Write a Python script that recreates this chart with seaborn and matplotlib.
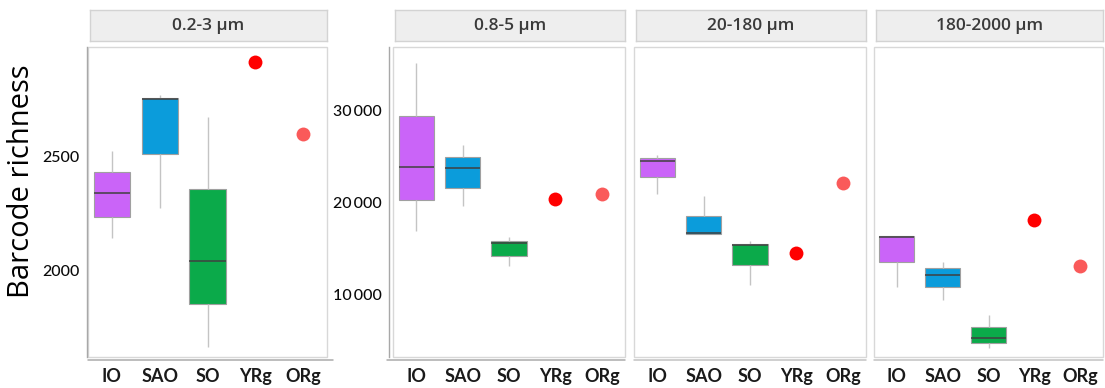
import matplotlib
matplotlib.use("Agg")
import matplotlib.pyplot as plt
import matplotlib.transforms as mtransforms
from matplotlib.patches import Rectangle
from matplotlib.lines import Line2D
import seaborn as sns
import pandas as pd

# ---------------- data ----------------
regions = ["IO", "SAO", "SO", "YRg", "ORg"]
box_regions = ["IO", "SAO", "SO"]
point_regions = ["YRg", "ORg"]
fractions = ["0.2-3 µm", "0.8-5 µm", "20-180 µm", "180-2000 µm"]

# per-fraction samples (min, q1, median, q3, max)
io_values = [[2141, 2236, 2340, 2435, 2528],
             [16917, 20250, 23802, 29348, 35076],
             [20900, 22700, 24492, 24750, 25109],
             [10830, 13550, 16250, 16300, 16300]]
sao_values = [[2276, 2513, 2755, 2762, 2774],
              [19600, 21590, 23730, 24924, 26196],
              [16520, 16520, 16600, 18550, 20616],
              [9380, 10830, 12100, 12830, 13480]]
so_values = [[1662, 1850, 2040, 2357, 2675],
             [13109, 14196, 15540, 15830, 16196],
             [11010, 13180, 15330, 15510, 15760],
             [4200, 4740, 5280, 6480, 7750]]
yrg_values = [2918, 20326, 14520, 18040]
org_values = [2600, 20870, 22040, 13110]

palette = {"IO": "#CA64F8", "SAO": "#0B9CDB", "SO": "#0BAA4A",
           "YRg": "#FF0000", "ORg": "#FA5A5A"}

rows = []
for i, f in enumerate(fractions):
    for reg, vals in (("IO", io_values), ("SAO", sao_values), ("SO", so_values)):
        for v in vals[i]:
            rows.append((f, reg, v))
    rows.append((f, "YRg", yrg_values[i]))
    rows.append((f, "ORg", org_values[i]))
df = pd.DataFrame(rows, columns=["fraction", "region", "value"])

# ---------------- style ----------------
sns.set_theme(style="white")
plt.rcParams["font.family"] = ["Lato", "DejaVu Sans"]

W, H = 1105, 388
fig = plt.figure(figsize=(W / 100, H / 100), dpi=100)


def px_axes(l, t, r, b):
    return fig.add_axes([l / W, 1 - b / H, (r - l) / W, (b - t) / H])


panel_x = [(88, 327), (393, 625), (634, 866), (874, 1103)]
TOP, BOT = 47, 357
ylims = [(1616, 2986), (3185, 36848), (3185, 36848), (3185, 36848)]

for i, f in enumerate(fractions):
    l, r = panel_x[i]
    ax = px_axes(l, TOP, r, BOT)
    sub = df[df["fraction"] == f]
    sns.boxplot(data=sub[sub["region"].isin(box_regions)], x="region", y="value",
                hue="region", order=regions, hue_order=box_regions, palette=palette,
                saturation=1, width=0.76, whis=(0, 100), showcaps=False, fliersize=0,
                linecolor="#a0a0a0", linewidth=0.8,
                medianprops=dict(color="#404040", linewidth=1.1),
                whiskerprops=dict(color="#c4c4c4", linewidth=1.0),
                legend=False, ax=ax)
    sns.stripplot(data=sub[sub["region"].isin(point_regions)], x="region", y="value",
                  hue="region", order=regions, hue_order=point_regions, palette=palette,
                  jitter=False, size=10, linewidth=0, legend=False, ax=ax, zorder=5)
    ax.set_xlim(-0.5, 4.5)
    ax.set_ylim(*ylims[i])
    ax.set_xlabel("")
    ax.set_ylabel("")
    ax.set_facecolor("white")

    # panel frame
    ax.add_patch(Rectangle((0, 0), 1, 1, transform=ax.transAxes, fill=False,
                           edgecolor="#D8D8D8", linewidth=1.0, clip_on=False, zorder=0))
    for s in ("top", "right", "bottom"):
        ax.spines[s].set_visible(False)
    # bottom axis line, slightly below the frame
    off = mtransforms.offset_copy(ax.transAxes, fig=fig, x=0, y=-3, units="dots")
    x_start = -6 / (r - l) if i == 1 else 0
    x_end = 1.0 + (6 / (r - l) if i == 0 else 0)
    ax.add_line(Line2D([x_start, x_end], [0, 0], transform=off,
                       color="#ABABAB" if i in (0, 1) else "#C2C2C2",
                       linewidth=1.1, clip_on=False, zorder=3))
    if i in (0, 1):
        ax.spines["left"].set_position(("outward", 1 if i == 0 else 3))
        ax.spines["left"].set_color("#A8A8A8")
        ax.spines["left"].set_linewidth(1.0)
    else:
        ax.spines["left"].set_visible(False)

    if i == 0:
        ax.set_yticks([2000, 2500], ["2000", "2500"])
    elif i == 1:
        ax.set_yticks([10000, 20000, 30000],
                      ["10\u2009000", "20\u2009000", "30\u2009000"])
    else:
        ax.set_yticks([])
    ax.tick_params(axis="y", length=0, pad=5, labelsize=11.5, labelcolor="#0a0a0a")
    ax.tick_params(axis="x", length=0, pad=8,
                   labelsize=13, labelcolor="#1a1a1a")
    for lab in ax.get_xticklabels():
        lab.set_fontweight("bold")
    for lab in ax.get_yticklabels():
        lab.set_fontweight("medium")

    # strip header
    sax = px_axes(l + 2, 10, r, 41)
    sax.set_facecolor("#EEEEEE")
    sax.set_xticks([])
    sax.set_yticks([])
    for s in sax.spines.values():
        s.set_color("#D3D3D3")
        s.set_linewidth(1.0)
    sax.text(0.5, 0.5, f, ha="center", va="center", fontsize=12.5, color="#3a3a3a",
             fontweight="semibold", family=["Open Sans", "DejaVu Sans"],
             transform=sax.transAxes)

fig.text(22 / W, 1 - 181 / H, "Barcode richness", rotation=90, ha="center",
         va="center", fontsize=21, color="#000000", fontweight="medium",
         family=["Open Sans", "DejaVu Sans"])

fig.savefig("out.png", dpi=100, facecolor="white")
